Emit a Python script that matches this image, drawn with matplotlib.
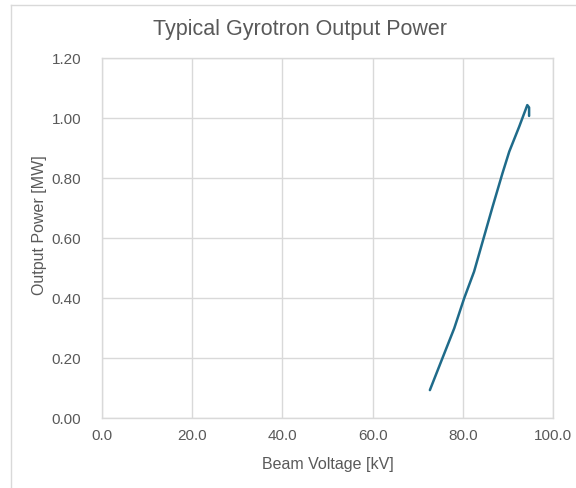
import matplotlib
matplotlib.use("Agg")
import matplotlib.pyplot as plt
from matplotlib.lines import Line2D

voltage_kv = [72.7, 75.5, 78.1, 80.3, 82.5, 84.7, 86.6, 88.8, 90.3, 92.5, 93.6, 94.3, 94.7, 94.7]
power_mw = [0.093, 0.20, 0.299, 0.399, 0.488, 0.604, 0.704, 0.816, 0.888, 0.971, 1.015, 1.043, 1.035, 1.007]

x_ticks = [0, 20, 40, 60, 80, 100]
y_ticks = [0.0, 0.2, 0.4, 0.6, 0.8, 1.0, 1.2]

title = "Typical Gyrotron Output Power"
x_title = "Beam Voltage [kV]"
y_title = "Output Power [MW]"

text_color = "#595959"
grid_color = "#d9d9d9"
line_color = "#1f6b8a"

plt.rcParams["font.family"] = ["Liberation Sans", "DejaVu Sans"]

fig = plt.figure(figsize=(5.76, 4.88), dpi=100)
ax = fig.add_axes([102 / 576, 70 / 488, 451 / 576, 360 / 488])

ax.plot(voltage_kv, power_mw, color=line_color, lw=1.8, solid_capstyle="round", solid_joinstyle="round")

ax.set_xlim(0, 100)
ax.set_ylim(0, 1.2)
ax.set_xticks(x_ticks)
ax.set_yticks(y_ticks)
ax.set_xticklabels([f"{v:.1f}" for v in x_ticks])
ax.set_yticklabels([f"{v:.2f}" for v in y_ticks])
ax.tick_params(axis="both", length=0, labelsize=11, colors=text_color)
ax.tick_params(axis="x", pad=8)
ax.tick_params(axis="y", pad=15)
ax.grid(True, color=grid_color, lw=1)
ax.set_axisbelow(True)
for s in ax.spines.values():
    s.set_color(grid_color)
    s.set_linewidth(1)

fig.text(300 / 576, 1 - 30 / 488, title, ha="center", va="center", fontsize=15.5, color=text_color)
fig.text(328 / 576, 1 - 465 / 488, x_title, ha="center", va="center", fontsize=11.5,
         color=text_color)
fig.text(40 / 576, 1 - 225 / 488, y_title, ha="center", va="center", fontsize=11.5,
         color=text_color, rotation=90)

# outer chart frame (left and top edges)
fig.add_artist(Line2D([11 / 576, 11 / 576], [0, 1 - 5 / 488], transform=fig.transFigure, color=grid_color, lw=1))
fig.add_artist(Line2D([11 / 576, 1], [1 - 5 / 488, 1 - 5 / 488], transform=fig.transFigure, color=grid_color, lw=1))

fig.savefig("out.png", dpi=100)
